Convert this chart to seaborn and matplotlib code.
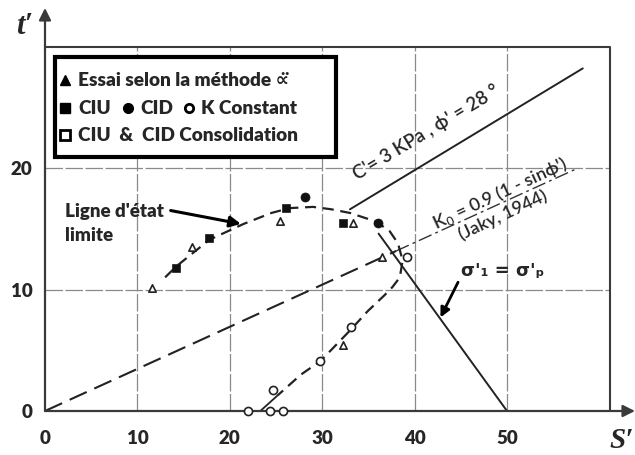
import matplotlib
matplotlib.use("Agg")
import matplotlib.pyplot as plt
import seaborn as sns
import pandas as pd
from matplotlib.patches import Rectangle

sns.set_style('white')
plt.rcParams['font.family'] = ['Lato', 'DejaVu Sans']

# points (s', t')
tri_s = [11.6, 15.9, 25.4, 33.3, 36.5, 32.2]
tri_t = [10.1, 13.5, 15.6, 15.5, 12.7, 5.4]
ciu_s = [14.2, 17.8, 26.1, 32.2]
ciu_t = [11.8, 14.2, 16.7, 15.5]
cid_s = [28.1, 36.0]
cid_t = [17.6, 15.5]
kc_s = [24.7, 29.8, 33.1, 39.2, 22.0, 24.4, 25.8]
kc_t = [1.7, 4.1, 6.9, 12.7, 0.0, 0.0, 0.0]

# ligne d'etat limite (courbe en tirets)
ls_s = [13.0, 14.2, 17.8, 21.5, 24.5, 26.5, 29.0, 31.0, 33.0, 35.0, 36.0, 37.3, 38.2, 38.7, 38.4,
        37.6, 36.7, 34.9, 33.1, 29.8, 27.7, 25.2]
ls_t = [11.0, 11.9, 14.1, 15.4, 16.3, 16.7, 16.8, 16.6, 16.3, 15.8, 15.5, 14.8, 13.8, 12.4, 11.0,
        10.2, 9.5, 8.2, 6.7, 4.1, 3.0, 1.3]
foot_s = [23.3, 25.2]
foot_t = [0.0, 1.3]

# droites
env_s = [33.0, 58.2]
env_t = [16.6, 28.2]
k0_s = [0.0, 38.0]
k0_t = [0.0, 13.17]
k0b_s = [38.0, 57.7]
k0b_t = [13.17, 20.0]
sp_s = [36.1, 50.0]
sp_t = [14.6, 0.0]

xticks = [0, 10, 20, 30, 40, 50]
yticks = [0, 10, 20]

fig = plt.figure(figsize=(6.35, 4.55), dpi=100)
ax = fig.add_axes([45 / 635, 44 / 455, 590 / 635, 403 / 455])
ax.set_xlim(0, 63.85)
ax.set_ylim(0, 33.17)
for sp in ax.spines.values():
    sp.set_visible(False)

# grille et cadre
ax.vlines([10, 20, 30, 40, 50], 0, 30, color='#8a8a8a', lw=0.9, ls=(0, (14, 2)), zorder=0)
ax.hlines([10, 20], 0, 61.1, color='#8a8a8a', lw=0.9, ls=(0, (14, 2)), zorder=0)
ax.plot([0, 61.1, 61.1], [30, 30, 0], color='#3a3a3a', lw=1.5, zorder=1)

# axes avec fleches
ax.annotate('', xy=(1, 0), xytext=(0, 0), xycoords='axes fraction',
            arrowprops=dict(arrowstyle='-|>', color='#3a3a3a', lw=1.6, mutation_scale=18,
                            shrinkA=0, shrinkB=0))
ax.annotate('', xy=(0, 1), xytext=(0, 0), xycoords='axes fraction',
            arrowprops=dict(arrowstyle='-|>', color='#3a3a3a', lw=1.6, mutation_scale=18,
                            shrinkA=0, shrinkB=0))

ax.set_xticks(xticks)
ax.set_yticks(yticks)
ax.set_xticklabels([str(v) for v in xticks], fontweight='heavy', fontsize=13.5)
ax.set_yticklabels([str(v) for v in yticks], fontweight='heavy', fontsize=13.5)
ax.tick_params(axis='x', length=0, pad=14)
ax.tick_params(axis='y', length=0, pad=9)

# lignes
sns.lineplot(x=env_s, y=env_t, sort=False, estimator=None, color='#222222', lw=1.4, ax=ax)
sns.lineplot(x=k0_s, y=k0_t, sort=False, estimator=None, color='#222222', lw=1.5, ax=ax,
             dashes=False, linestyle=(0, (9, 4)))
sns.lineplot(x=k0b_s, y=k0b_t, sort=False, estimator=None, color='#333333', lw=1.0, ax=ax,
             linestyle=(0, (10, 3, 2, 3)))
sns.lineplot(x=sp_s, y=sp_t, sort=False, estimator=None, color='#222222', lw=1.4, ax=ax)
sns.lineplot(x=ls_s, y=ls_t, sort=False, estimator=None, color='#222222', lw=1.6, ax=ax,
             linestyle=(0, (5, 3)))
sns.lineplot(x=foot_s, y=foot_t, sort=False, estimator=None, color='#222222', lw=1.3, ax=ax)

# points
sns.scatterplot(x=tri_s, y=tri_t, marker='^', s=28, color='white', edgecolor='#222222',
                linewidth=1.2, ax=ax, zorder=5, clip_on=False)
sns.scatterplot(x=ciu_s, y=ciu_t, marker='s', s=34, color='#111111', edgecolor='#111111', ax=ax, zorder=5)
sns.scatterplot(x=cid_s, y=cid_t, marker='o', s=42, color='#111111', edgecolor='#111111', ax=ax, zorder=5)
sns.scatterplot(x=kc_s, y=kc_t, marker='o', s=34, color='white', edgecolor='#222222',
                linewidth=1.2, ax=ax, zorder=5, clip_on=False)

# legende
ax.add_patch(Rectangle((1.1, 20.9), 30.4, 8.2, facecolor='white', edgecolor='black', lw=3, zorder=6))
def lx(px):
    return (px - 45) / 9.24
def ly(py):
    return (411 - py) / 12.15
ax.plot([lx(65)], [ly(80)], marker='^', ms=7, color='black', zorder=7, ls='none')
ax.plot([lx(65)], [ly(108)], marker='s', ms=7, color='black', zorder=7, ls='none')
ax.plot([lx(128)], [ly(108)], marker='o', ms=7, color='black', zorder=7, ls='none')
ax.plot([lx(189)], [ly(108)], marker='o', ms=6, mfc='white', mec='black', mew=2, zorder=7, ls='none')
ax.plot([lx(65)], [ly(135)], marker='s', ms=6.5, mfc='white', mec='black', mew=2, zorder=7, ls='none')
tk = dict(fontweight='heavy', fontsize=13.7, va='center', ha='left', zorder=7)
ax.text(lx(78), ly(80), "Essai selon la méthode ∝\u0308", **tk)
ax.text(lx(78), ly(108), "CIU", **tk)
ax.text(lx(140), ly(108), "CID", **tk)
ax.text(lx(201), ly(108), "K Constant", **tk)
ax.text(lx(78), ly(135), "CIU  &  CID Consolidation", **tk)

# annotations
ax.text(2.2, 15.4, "Ligne d'état\nlimite", fontweight='heavy', fontsize=13.5, va='center', ha='left',
        linespacing=1.5)
ax.annotate('', xy=(21.2, 15.4), xytext=(13.6, 16.5),
            arrowprops=dict(arrowstyle='-|>', color='black', lw=2.2, mutation_scale=16,
                            shrinkA=0, shrinkB=0))
ax.text(41.3, 22.9, "C'= 3 KPa , ϕ' = 28 °", fontsize=13.5, fontweight='semibold', rotation=31,
        ha='center', va='center', rotation_mode='anchor')
ax.text(49.2, 17.9, "K$_0$ = 0.9 (1 - sinϕ')", fontsize=13, fontweight='semibold', rotation=25,
        ha='center', va='center', rotation_mode='anchor')
ax.text(49.6, 16.1, "(Jaky, 1944)", fontsize=13, fontweight='semibold', rotation=25,
        ha='center', va='center', rotation_mode='anchor')
ax.text(45.0, 11.5, "σ'₁ = σ'ₚ", fontsize=13, fontweight='bold', ha='left', va='center',
        family=['DejaVu Sans'])
ax.annotate('', xy=(42.8, 7.7), xytext=(44.7, 10.6),
            arrowprops=dict(arrowstyle='-|>', color='black', lw=2.0, mutation_scale=14,
                            shrinkA=0, shrinkB=0))

# titres des axes
fig.text(25 / 635, 1 - 27 / 455, "t′", fontsize=22, style='italic', fontweight='bold',
         family=['Liberation Serif'], ha='center', va='center')
fig.text(634 / 635, 1 - 440 / 455, "S′", fontsize=21, style='italic', fontweight='bold',
         family=['Liberation Serif'], ha='right', va='center')

fig.savefig('out.png', dpi=100)
